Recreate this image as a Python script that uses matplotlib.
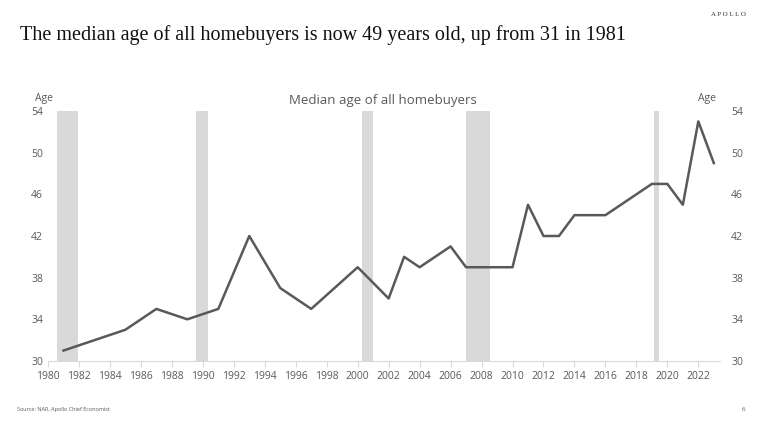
import matplotlib.pyplot as plt

years = [1981, 1985, 1987, 1989, 1991, 1993, 1995, 1997, 2000, 2002, 2003, 2004, 2006,
         2007, 2008, 2009, 2010, 2011, 2012, 2013, 2014, 2015, 2016, 2017, 2018, 2019,
         2020, 2021, 2022, 2023]
ages = [31, 33, 35, 34, 35, 42, 37, 35, 39, 36, 40, 39, 41,
        39, 39, 39, 39, 45, 42, 42, 44, 44, 44, 45, 46, 47,
        47, 45, 53, 49]
recessions = [(1980.6, 1981.95), (1989.55, 1990.35), (2000.3, 2001.0),
              (2007.0, 2008.55), (2019.15, 2019.45)]

plt.rcParams['font.family'] = ['Open Sans', 'DejaVu Sans']
fig = plt.figure(figsize=(7.68, 4.23), dpi=100)
ax = fig.add_axes([0.0625, 0.1466, 0.875, 0.591])

for s, e in recessions:
    ax.axvspan(s, e, color='#d9d9d9', lw=0, zorder=0)
ax.plot(years, ages, color='#595959', lw=1.8, zorder=2)

ax.set_xlim(1980, 2023.4)
ax.set_ylim(30, 54)
ax.set_xticks(range(1980, 2023, 2))
ax.set_yticks(range(30, 55, 4))
ax.tick_params(axis='x', colors='#d9d9d9', labelcolor='#595959', labelsize=7.5, length=4)
ax.tick_params(axis='y', length=0, labelcolor='#595959', labelsize=7.5)
for s in ['top', 'left', 'right']:
    ax.spines[s].set_visible(False)
ax.spines['bottom'].set_color('#d9d9d9')

ax2 = ax.twinx()
ax2.set_ylim(30, 54)
ax2.set_yticks(range(30, 55, 4))
ax2.tick_params(axis='y', length=0, labelcolor='#595959', labelsize=7.5, pad=8)
for s in ['top', 'left', 'right', 'bottom']:
    ax2.spines[s].set_visible(False)

fig.text(0.046, 0.768, 'Age', fontsize=7.5, color='#595959', ha='left', va='center')
fig.text(0.932, 0.768, 'Age', fontsize=7.5, color='#595959', ha='right', va='center')
fig.text(0.499, 0.762, 'Median age of all homebuyers', fontsize=9.5, color='#595959',
         ha='center', va='center')

fig.text(0.026, 0.917, 'The median age of all homebuyers is now 49 years old, up from 31 in 1981',
         fontsize=14.5, family='Liberation Serif', color='#111111', va='center')
fig.text(0.949, 0.965, 'A P O L L O', fontsize=5, family='Liberation Serif', color='#333333',
         ha='center', va='center')
fig.text(0.022, 0.033, 'Source: NAR, Apollo Chief Economist', fontsize=4, color='#595959',
         va='center')
fig.text(0.968, 0.033, '6', fontsize=4.5, color='#595959', ha='center', va='center')

fig.savefig('out.png', dpi=100)
